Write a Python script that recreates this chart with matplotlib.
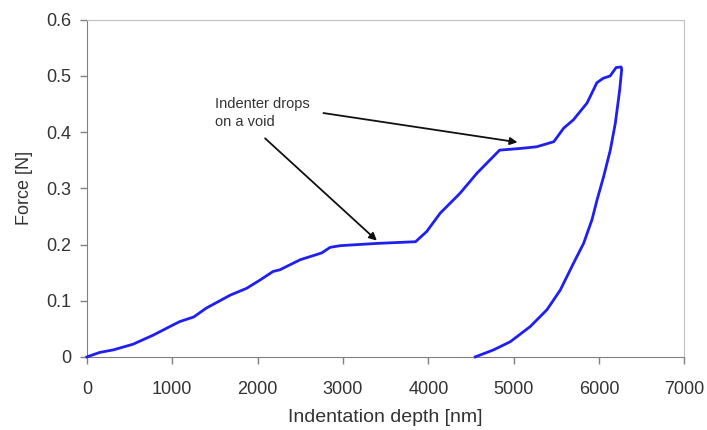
import matplotlib.pyplot as plt

plt.rcParams['font.family'] = ['Liberation Sans', 'DejaVu Sans']

# loading branch (depth in nm, force in N)
load_depth = [0, 150, 310, 540, 780, 1010, 1090, 1250, 1400, 1680, 1870, 2030, 2180, 2260,
              2500, 2750, 2850, 2970, 3400, 3850, 3980, 4140, 4370, 4570, 4725, 4835,
              5080, 5270, 5470, 5585, 5700, 5860, 5975, 6050, 6130, 6200, 6260]
load_force = [0.0, 0.008, 0.0125, 0.0226, 0.039, 0.057, 0.063, 0.071, 0.087, 0.110, 0.122, 0.137, 0.152, 0.155,
              0.173, 0.185, 0.195, 0.198, 0.202, 0.205, 0.223, 0.256, 0.291, 0.327, 0.351, 0.368,
              0.371, 0.374, 0.383, 0.407, 0.422, 0.452, 0.488, 0.496, 0.500, 0.515, 0.516]

# unloading branch
unload_depth = [6265, 6242, 6191, 6132, 6054, 5976, 5917, 5819, 5702, 5546, 5390, 5194, 4960, 4764, 4550]
unload_force = [0.511, 0.475, 0.416, 0.368, 0.321, 0.279, 0.244, 0.202, 0.167, 0.119, 0.084, 0.054, 0.027, 0.0125, 0.0]

x_ticks = [0, 1000, 2000, 3000, 4000, 5000, 6000, 7000]
y_ticks = [0, 0.1, 0.2, 0.3, 0.4, 0.5, 0.6]
y_labels = ['0', '0.1', '0.2', '0.3', '0.4', '0.5', '0.6']

note_text = 'Indenter drops\non a void'
note_pos = (1500, 0.463)
arrow_starts = [(2087, 0.389), (2771, 0.434)]
arrow_ends = [(3397, 0.207), (5045, 0.382)]

fig = plt.figure(figsize=(7.07, 4.30), dpi=100)
ax = fig.add_axes([0.123, 0.170, 0.845, 0.784])

blue = '#1f1fef'
ax.plot(load_depth + unload_depth, load_force + unload_force, color=blue, lw=2.0,
        clip_on=False, zorder=5, solid_joinstyle='round')

ax.set_xlim(0, 7000)
ax.set_ylim(0, 0.6)
ax.set_xticks(x_ticks)
ax.set_yticks(y_ticks)
ax.set_yticklabels(y_labels)

txt = '#333333'
ax.tick_params(axis='both', labelsize=13, colors='#808080', labelcolor=txt, length=5, width=1)
ax.tick_params(axis='x', pad=12)
ax.tick_params(axis='y', pad=6)

for s in ['left', 'bottom']:
    ax.spines[s].set_color('#808080')
for s in ['top', 'right']:
    ax.spines[s].set_color('#c0c0c0')

ax.set_xlabel('Indentation depth [nm]', fontsize=14, color=txt, labelpad=8)
ax.set_ylabel('Force [N]', fontsize=13, color=txt, labelpad=10)

ax.text(note_pos[0], note_pos[1], note_text, fontsize=10.5, color=txt, va='top', ha='left',
        linespacing=1.4)
for st, en in zip(arrow_starts, arrow_ends):
    ax.annotate('', xy=en, xytext=st,
                arrowprops=dict(arrowstyle='-|>', color='#111111', lw=1.3,
                                mutation_scale=11, shrinkA=0, shrinkB=0))

fig.savefig('out.png', dpi=100)
